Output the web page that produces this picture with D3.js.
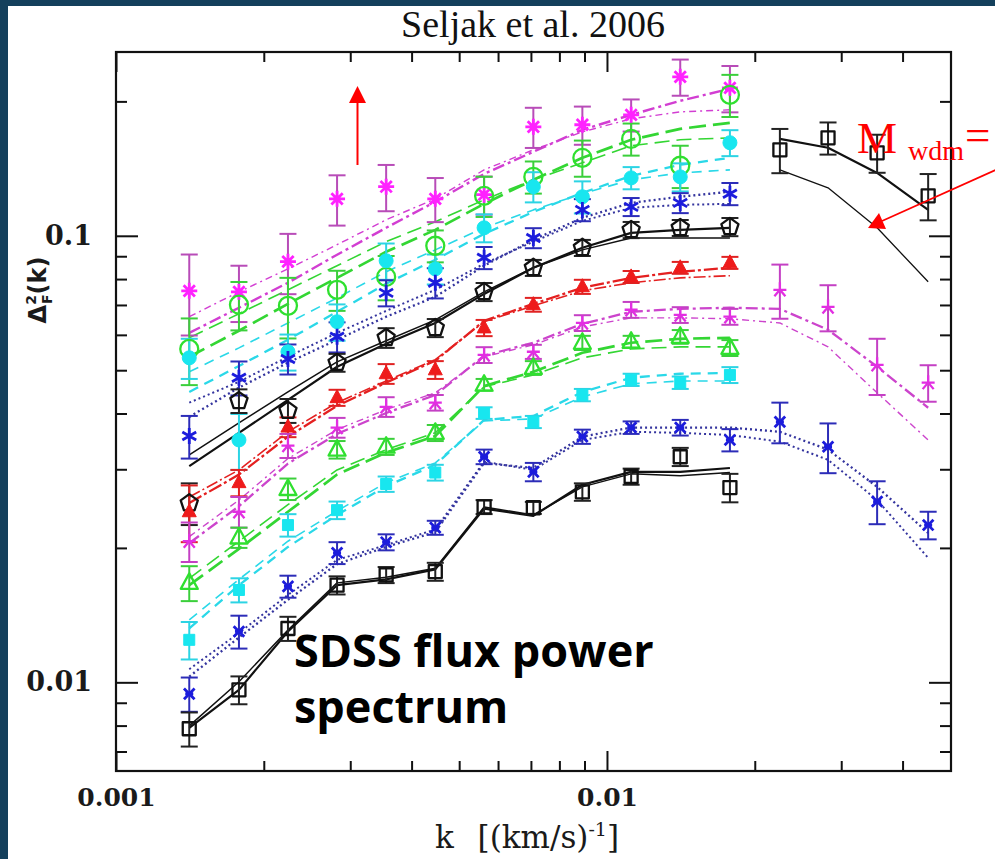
<!DOCTYPE html>
<html>
<head>
<meta charset="utf-8">
<script src="https://cdn.jsdelivr.net/npm/d3@7"></script>
<style>
  html, body { margin: 0; padding: 0; background: #14405c; }
  svg { display: block; }
</style>
</head>
<body>
<svg id="chart" width="995" height="859"></svg>
<script>
// ---- wavenumber bins, (km/s)^-1 ----
const kLow  = [0.00141, 0.00178, 0.00224, 0.00282, 0.00355, 0.00447, 0.00562, 0.00708, 0.00891, 0.0112, 0.0141, 0.0178];
const kHigh = [0.0225, 0.0282, 0.0355, 0.0451];
const kAll  = kLow.concat(kHigh);

// ---- axis ticks ----
const xMajor = [0.001, 0.01];
const xTickLabels = ["0.001", "0.01"];
const xMinor = [0.002, 0.003, 0.004, 0.005, 0.006, 0.007, 0.008, 0.009, 0.02, 0.03, 0.04];
const yMajor = [0.01, 0.1];
const yTickLabels = ["0.01", "0.1"];
const yMinor = [0.007, 0.008, 0.009, 0.02, 0.03, 0.04, 0.05, 0.06, 0.07, 0.08, 0.09, 0.2];

// ---- flux power per redshift bin: measurement, 1-sigma error, two model curves ----
const p42 = [0.0753, 0.0749, 0.0875, 0.121, 0.1288, 0.121, 0.1236, 0.1754, 0.1773, 0.1866, 0.227, 0.2145];
const e42 = [0.0155, 0.0108, 0.0135, 0.0156, 0.0153, 0.0137, 0.0121, 0.0181, 0.0174, 0.0154, 0.0211, 0.0255];
const a42 = [0.0659, 0.0749, 0.0843, 0.0955, 0.1086, 0.121, 0.1405, 0.1558, 0.1709, 0.1828, 0.1895, 0.1915];
const b42 = [0.0606, 0.069, 0.0785, 0.0907, 0.1042, 0.1192, 0.1376, 0.1542, 0.1727, 0.1866, 0.2006, 0.2134];

const p40 = [0.0558, 0.0701, 0.0697, 0.0757, 0.0809, 0.095, 0.1229, 0.1355, 0.1495, 0.1648, 0.1435, 0.2069];
const e40 = [0.0095, 0.0087, 0.0108, 0.0078, 0.0092, 0.0078, 0.0127, 0.0112, 0.0139, 0.0136, 0.0156, 0.0224];
const a40 = [0.0591, 0.0669, 0.0757, 0.0857, 0.097, 0.1075, 0.1204, 0.1335, 0.1457, 0.1591, 0.1641, 0.1657];
const b40 = [0.0536, 0.0613, 0.0704, 0.0805, 0.0921, 0.1031, 0.1179, 0.1335, 0.1495, 0.1641, 0.1736, 0.1791];

const p38 = [0.0533, 0.0349, 0.055, 0.0642, 0.0879, 0.0843, 0.1042, 0.1288, 0.1223, 0.1348, 0.1355, 0.1616];
const e38 = [0.0055, 0.005, 0.0051, 0.006, 0.0082, 0.0065, 0.0075, 0.01, 0.0101, 0.0077, 0.0098, 0.0108];
const a38 = [0.0496, 0.0561, 0.0638, 0.0726, 0.0831, 0.093, 0.1042, 0.1143, 0.1242, 0.1335, 0.1383, 0.1405];
const b38 = [0.0447, 0.0511, 0.0585, 0.0676, 0.0781, 0.0884, 0.101, 0.1131, 0.1248, 0.1362, 0.1442, 0.1495];

const p36 = [0.0356, 0.0481, 0.053, 0.0594, 0.0745, 0.0785, 0.0893, 0.0989, 0.1143, 0.1161, 0.1185, 0.1242];
const e36 = [0.0039, 0.0042, 0.0041, 0.0046, 0.005, 0.0061, 0.0051, 0.0051, 0.0065, 0.0054, 0.0061, 0.0071];
const a36 = [0.0423, 0.0471, 0.0536, 0.0606, 0.0679, 0.0757, 0.0866, 0.097, 0.108, 0.1155, 0.1173, 0.1179];
const b36 = [0.0393, 0.0457, 0.052, 0.0585, 0.0659, 0.073, 0.0857, 0.098, 0.1097, 0.1185, 0.1223, 0.1255];

const p34 = [0.0252, 0.0427, 0.0406, 0.052, 0.0591, 0.0622, 0.0749, 0.0848, 0.094, 0.1031, 0.1042, 0.1047];
const e34 = [0.0027, 0.0026, 0.0025, 0.0024, 0.003, 0.0029, 0.0035, 0.0035, 0.0039, 0.0043, 0.0043, 0.0049];
const a34 = [0.0323, 0.0381, 0.0447, 0.0522, 0.0582, 0.0648, 0.0749, 0.0848, 0.093, 0.0989, 0.0989, 0.0989];
const b34 = [0.0305, 0.0362, 0.0429, 0.0509, 0.0573, 0.0638, 0.0741, 0.0848, 0.094, 0.1015, 0.1031, 0.1042];

const p32 = [0.0241, 0.028, 0.0373, 0.0434, 0.0491, 0.0501, 0.0622, 0.0701, 0.0769, 0.0809, 0.0848, 0.087];
const e32 = [0.0035, 0.0019, 0.0019, 0.0018, 0.0025, 0.0023, 0.0026, 0.0025, 0.0028, 0.0025, 0.0026, 0.0027];
const a32 = [0.026, 0.0299, 0.0364, 0.0423, 0.0473, 0.0528, 0.0642, 0.0697, 0.0753, 0.0785, 0.0805, 0.0814];
const b32 = [0.0252, 0.0292, 0.0355, 0.0416, 0.0469, 0.0525, 0.0645, 0.0704, 0.0765, 0.0805, 0.0831, 0.0848];

const p30 = [0.0207, 0.0241, 0.0339, 0.0372, 0.0414, 0.0423, 0.0541, 0.055, 0.0638, 0.0683, 0.0665, 0.0659, 0.0757, 0.0693, 0.0514, 0.0469];
const e30 = [0.0021, 0.0019, 0.0021, 0.0019, 0.0021, 0.0017, 0.0022, 0.002, 0.0026, 0.0028, 0.0027, 0.0027, 0.0105, 0.0082, 0.0074, 0.0044];
const a30 = [0.0212, 0.0256, 0.0317, 0.0368, 0.0408, 0.0445, 0.0536, 0.057, 0.0625, 0.0655, 0.0655, 0.0652, 0.0638, 0.0564, 0.0445, 0.0349];
const b30 = [0.0205, 0.0248, 0.0309, 0.036, 0.0401, 0.044, 0.0539, 0.0576, 0.0635, 0.0676, 0.0686, 0.069, 0.0686, 0.0616, 0.0509, 0.0412];

const p28 = [0.0167, 0.0211, 0.0271, 0.0332, 0.0337, 0.0362, 0.0464, 0.0506, 0.0576, 0.0579, 0.0594, 0.0561];
const e28 = [0.0015, 0.0011, 0.0015, 0.0015, 0.0014, 0.0015, 0.0014, 0.0018, 0.0021, 0.0018, 0.0021, 0.0023];
const a28 = [0.0171, 0.0207, 0.025, 0.0299, 0.0332, 0.0362, 0.0459, 0.0488, 0.0533, 0.0558, 0.0564, 0.0564];
const b28 = [0.0165, 0.0199, 0.0241, 0.0292, 0.0327, 0.0356, 0.0461, 0.0496, 0.0547, 0.0576, 0.0588, 0.0591];

const p26 = [0.01245, 0.0161, 0.0225, 0.0243, 0.0278, 0.0295, 0.0401, 0.0383, 0.044, 0.0476, 0.0469, 0.0488];
const e26 = [0.0012, 0.001, 0.0013, 0.0011, 0.0011, 0.0012, 0.0012, 0.0012, 0.0014, 0.0015, 0.0015, 0.002];
const a26 = [0.0138, 0.017, 0.0207, 0.0242, 0.028, 0.031, 0.0385, 0.0389, 0.0436, 0.0466, 0.0473, 0.0473];
const b26 = [0.0132, 0.0165, 0.0201, 0.0237, 0.0275, 0.0307, 0.0387, 0.0395, 0.0447, 0.0481, 0.0491, 0.0493];

const p24 = [0.00942, 0.013, 0.0164, 0.0195, 0.0206, 0.0222, 0.032, 0.0296, 0.0355, 0.0372, 0.0372, 0.0349, 0.0383, 0.0337, 0.0254, 0.0225];
const e24 = [0.00083, 0.0011, 0.00093, 0.0011, 0.00085, 0.0008, 0.0012, 0.0014, 0.0013, 0.0012, 0.0015, 0.002, 0.004, 0.0043, 0.0028, 0.0016];
const a24 = [0.0107, 0.0129, 0.0157, 0.0188, 0.0203, 0.022, 0.0312, 0.0299, 0.0349, 0.0364, 0.0362, 0.0358, 0.0346, 0.0315, 0.0256, 0.019];
const b24 = [0.0103, 0.0126, 0.0153, 0.0184, 0.0201, 0.0217, 0.031, 0.0302, 0.0355, 0.0372, 0.0372, 0.0372, 0.0364, 0.0332, 0.0274, 0.0216];

const p22 = [0.00787, 0.00962, 0.0132, 0.0165, 0.0174, 0.0177, 0.0247, 0.0246, 0.0267, 0.0289, 0.032, 0.0273];
const e22 = [0.00069, 0.00069, 0.00082, 0.00077, 0.00072, 0.00082, 0.00089, 0.00076, 0.0012, 0.0012, 0.0015, 0.002];
const a22 = [0.00799, 0.01003, 0.0131, 0.0167, 0.0172, 0.018, 0.0247, 0.0237, 0.0274, 0.0293, 0.029, 0.0295];
const b22 = [0.00791, 0.00962, 0.013, 0.0165, 0.017, 0.0179, 0.0245, 0.0236, 0.0277, 0.0296, 0.0296, 0.0302];

// high-resolution points at small scales
const pHi = [0.1558, 0.1657, 0.1534, 0.1229];
const eHi = [0.0177, 0.0137, 0.015, 0.0146];
const aHi = [0.1648, 0.1575, 0.1383, 0.1143];
const bHi = [0.1405, 0.1281, 0.1042, 0.0789];

const seriesList = [
  { id: "z42", k: kLow,  p: p42, e: e42, a: a42, b: b42 },
  { id: "z40", k: kLow,  p: p40, e: e40, a: a40, b: b40 },
  { id: "z38", k: kLow,  p: p38, e: e38, a: a38, b: b38 },
  { id: "z36", k: kLow,  p: p36, e: e36, a: a36, b: b36 },
  { id: "z34", k: kLow,  p: p34, e: e34, a: a34, b: b34 },
  { id: "z32", k: kLow,  p: p32, e: e32, a: a32, b: b32 },
  { id: "z30", k: kAll,  p: p30, e: e30, a: a30, b: b30 },
  { id: "z28", k: kLow,  p: p28, e: e28, a: a28, b: b28 },
  { id: "z26", k: kLow,  p: p26, e: e26, a: a26, b: b26 },
  { id: "z24", k: kAll,  p: p24, e: e24, a: a24, b: b24 },
  { id: "z22", k: kLow,  p: p22, e: e22, a: a22, b: b22 },
  { id: "hi",  k: kHigh, p: pHi, e: eHi, a: aHi, b: bHi }
];

// ---- appearance of each bin ----
const look = {
  z42: { mark: "asterisk8", col: "#ff22ff", bar: "#b84cb8", line: "#d23ed2", dashA: "7,4,2,4",  dashB: "12,4,3,4", wA: 1.4, wB: 2.4 },
  z40: { mark: "circle",    col: "#2fe02f", bar: "#3bcf3b", line: "#33d633", dashA: "15,7",     dashB: "17,7",     wA: 1.6, wB: 2.7 },
  z38: { mark: "dot",       col: "#18e6ef", bar: "#2cd4e4", line: "#2ad8e8", dashA: "10,7",     dashB: "10,7",     wA: 1.6, wB: 2.3 },
  z36: { mark: "asterisk6", col: "#1c1cdc", bar: "#2c2cb8", line: "#34349e", dashA: "2,3",      dashB: "2,3",      wA: 2.0, wB: 2.3 },
  z34: { mark: "pentagon",  col: "#111111", bar: "#222222", line: "#111111", dashA: null,       dashB: null,       wA: 1.5, wB: 2.2 },
  z32: { mark: "triFill",   col: "#ee1b1b", bar: "#e02222", line: "#e42020", dashA: "12,3,2,3", dashB: "14,3,3,3", wA: 1.6, wB: 2.3 },
  z30: { mark: "tristar",   col: "#e22ee2", bar: "#c440c4", line: "#cc44cc", dashA: "7,4,2,4",  dashB: "12,4,3,4", wA: 1.4, wB: 2.3 },
  z28: { mark: "triangle",  col: "#2fe02f", bar: "#3bcf3b", line: "#33d633", dashA: "15,7",     dashB: "17,7",     wA: 1.6, wB: 2.7 },
  z26: { mark: "sqFill",    col: "#18e6ef", bar: "#2cd4e4", line: "#2ad8e8", dashA: "10,7",     dashB: "10,7",     wA: 1.6, wB: 2.3 },
  z24: { mark: "xstar",     col: "#1c1cdc", bar: "#2c2cb8", line: "#34349e", dashA: "2,3",      dashB: "2,3",      wA: 2.0, wB: 2.3 },
  z22: { mark: "square",    col: "#111111", bar: "#222222", line: "#111111", dashA: null,       dashB: null,       wA: 1.5, wB: 2.2 },
  hi:  { mark: "square",    col: "#111111", bar: "#222222", line: "#111111", dashA: null,       dashB: null,       wA: 2.2, wB: 1.3 }
};

const svg = d3.select("#chart");
svg.append("rect").attr("x", 8).attr("y", 6).attr("width", 987).attr("height", 853).attr("fill", "#ffffff");

const x = d3.scaleLog().domain([0.001, 0.0502]).range([116, 951]);
const y = d3.scaleLog().domain([0.00633, 0.258]).range([771, 52]);
const [x0, x1] = x.range();
const [y0, y1] = [y.range()[1], y.range()[0]];

// ---- axes: ticks point inward on all four sides ----
function styleAxis(g) {
  g.select(".domain").remove();
  g.selectAll(".tick line").attr("stroke", "#111").attr("stroke-width", 2);
}
const axes = svg.append("g");
axes.append("g").attr("transform", `translate(0,${y1})`)
  .call(d3.axisBottom(x).tickValues(xMajor).tickSize(-20).tickPadding(17).tickFormat((d, i) => xTickLabels[i]))
  .call(styleAxis)
  .call(g => g.selectAll("text").attr("font-family", "DejaVu Serif").attr("font-weight", "bold").attr("font-size", 25).attr("fill", "#1a1a1a"));
axes.append("g").attr("transform", `translate(0,${y1})`)
  .call(d3.axisBottom(x).tickValues(xMinor).tickSize(-10).tickFormat(""))
  .call(styleAxis);
axes.append("g").attr("transform", `translate(0,${y0})`)
  .call(d3.axisTop(x).tickValues(xMajor).tickSize(-20).tickFormat(""))
  .call(styleAxis);
axes.append("g").attr("transform", `translate(0,${y0})`)
  .call(d3.axisTop(x).tickValues(xMinor).tickSize(-10).tickFormat(""))
  .call(styleAxis);
axes.append("g").attr("transform", `translate(${x0},0)`)
  .call(d3.axisLeft(y).tickValues(yMajor).tickSize(-22).tickPadding(24).tickFormat((d, i) => yTickLabels[i]))
  .call(styleAxis)
  .call(g => g.selectAll("text").attr("font-family", "DejaVu Serif").attr("font-weight", "bold").attr("font-size", 27).attr("fill", "#1a1a1a"));
axes.append("g").attr("transform", `translate(${x0},0)`)
  .call(d3.axisLeft(y).tickValues(yMinor).tickSize(-11).tickFormat(""))
  .call(styleAxis);
axes.append("g").attr("transform", `translate(${x1},0)`)
  .call(d3.axisRight(y).tickValues(yMajor).tickSize(-22).tickFormat(""))
  .call(styleAxis);
axes.append("g").attr("transform", `translate(${x1},0)`)
  .call(d3.axisRight(y).tickValues(yMinor).tickSize(-11).tickFormat(""))
  .call(styleAxis);

// ---- model curves ----
const curve = d3.line().x(d => x(d[0])).y(d => y(d[1]));
const models = svg.append("g").attr("fill", "none");
seriesList.forEach(s => {
  const st = look[s.id];
  [[s.a, st.dashA, st.wA], [s.b, st.dashB, st.wB]].forEach(([vals, dash, w]) => {
    models.append("path")
      .attr("d", curve(s.k.map((kk, i) => [kk, vals[i]])))
      .attr("stroke", st.line)
      .attr("stroke-width", w)
      .attr("stroke-dasharray", dash)
      .attr("stroke-linejoin", "round");
  });
});

// ---- error bars ----
const bars = svg.append("g").attr("stroke-width", 2);
seriesList.forEach(s => {
  const st = look[s.id];
  s.k.forEach((kk, i) => {
    const cx = x(kk), top = y(s.p[i] + s.e[i]), bot = y(s.p[i] - s.e[i]);
    const g = bars.append("g").attr("stroke", st.bar);
    g.append("line").attr("x1", cx).attr("x2", cx).attr("y1", top).attr("y2", bot);
    g.append("line").attr("x1", cx - 8.5).attr("x2", cx + 8.5).attr("y1", top).attr("y2", top);
    g.append("line").attr("x1", cx - 8.5).attr("x2", cx + 8.5).attr("y1", bot).attr("y2", bot);
  });
});

// ---- point symbols ----
function markPath(kind) {
  const p = d3.path();
  const ray = (deg, r) => {
    const a = deg * Math.PI / 180;
    p.moveTo(-r * Math.cos(a), -r * Math.sin(a));
    p.lineTo(r * Math.cos(a), r * Math.sin(a));
  };
  const poly = pts => {
    p.moveTo(pts[0][0], pts[0][1]);
    pts.slice(1).forEach(q => p.lineTo(q[0], q[1]));
    p.closePath();
  };
  switch (kind) {
    case "asterisk8": [0, 45, 90, 135].forEach(a => ray(a, 8)); break;
    case "asterisk6": [90, 30, 150].forEach(a => ray(a, 8)); break;
    case "xstar": [45, 135].forEach(a => ray(a, 7.5)); ray(0, 4); break;
    case "tristar":
      ray(0, 6.5);
      p.moveTo(0, 0); p.lineTo(0, -7.5);
      p.moveTo(0, 0); p.lineTo(-5.5, 6.5);
      p.moveTo(0, 0); p.lineTo(5.5, 6.5);
      break;
    case "pentagon":
      poly(d3.range(5).map(i => {
        const a = (-90 + 72 * i) * Math.PI / 180;
        return [9 * Math.cos(a), 9 * Math.sin(a)];
      }));
      break;
    case "circle": p.moveTo(9, 0); p.arc(0, 0, 9, 0, 2 * Math.PI); break;
    case "dot": p.moveTo(7, 0); p.arc(0, 0, 7, 0, 2 * Math.PI); break;
    case "triangle": poly([[0, -9.5], [8.5, 6], [-8.5, 6]]); break;
    case "triFill": poly([[0, -8], [7, 5], [-7, 5]]); break;
    case "square": poly([[-6.5, -6.5], [6.5, -6.5], [6.5, 6.5], [-6.5, 6.5]]); break;
    case "sqFill": poly([[-5.5, -5.5], [5.5, -5.5], [5.5, 5.5], [-5.5, 5.5]]); break;
  }
  return p.toString();
}
const filled = new Set(["dot", "triFill", "sqFill"]);
const marks = svg.append("g");
seriesList.forEach(s => {
  const st = look[s.id];
  const d = markPath(st.mark);
  s.k.forEach((kk, i) => {
    const m = marks.append("path")
      .attr("d", d)
      .attr("transform", `translate(${x(kk)},${y(s.p[i])})`)
      .attr("stroke-linejoin", "round");
    if (filled.has(st.mark)) {
      m.attr("fill", st.col).attr("stroke", st.col).attr("stroke-width", 1);
    } else {
      m.attr("fill", "none").attr("stroke", st.col).attr("stroke-width", st.mark.startsWith("aster") || st.mark === "xstar" ? 2.8 : 2.3);
    }
  });
});

// ---- frame ----
svg.append("rect")
  .attr("x", x0).attr("y", y0).attr("width", x1 - x0).attr("height", y1 - y0)
  .attr("fill", "none").attr("stroke", "#111").attr("stroke-width", 2.2);

// ---- titles ----
svg.append("text")
  .attr("x", 533).attr("y", 37)
  .attr("text-anchor", "middle")
  .attr("font-family", "Liberation Serif, Times New Roman, serif")
  .attr("font-size", 38)
  .attr("fill", "#111")
  .text("Seljak et al. 2006");

const xl = svg.append("text")
  .attr("x", 527).attr("y", 848)
  .attr("text-anchor", "middle")
  .attr("font-family", "DejaVu Serif")
  .attr("font-size", 31)
  .attr("fill", "#1a1a1a");
xl.append("tspan").text("k");
xl.append("tspan").attr("dx", 14).text(" [(km/s)");
xl.append("tspan").attr("dy", -12).attr("font-size", 19).text("-1");
xl.append("tspan").attr("dy", 12).text("]");

const yl = svg.append("text")
  .attr("transform", "translate(46,290) rotate(-90)")
  .attr("text-anchor", "middle")
  .attr("font-family", "DejaVu Sans")
  .attr("font-weight", "bold")
  .attr("font-size", 24)
  .attr("fill", "#1a1a1a");
yl.append("tspan").text("Δ");
yl.append("tspan").attr("font-size", 14).attr("dy", -10).text("2");
yl.append("tspan").attr("font-size", 14).attr("dx", -9).attr("dy", 16).text("F");
yl.append("tspan").attr("dy", -6).text("(k)");

// ---- caption inside the plot ----
const cap = svg.append("text")
  .attr("font-family", "Open Sans, sans-serif")
  .attr("font-weight", 700)
  .attr("font-size", 45)
  .attr("fill", "#000");
cap.append("tspan").attr("x", 294).attr("y", 667).text("SDSS flux power");
cap.append("tspan").attr("x", 294).attr("y", 723).text("spectrum");

// ---- red annotations ----
const red = "#ff0000";
const ann = svg.append("g");
ann.append("line").attr("x1", 357.5).attr("y1", 165).attr("x2", 357.5).attr("y2", 100)
  .attr("stroke", red).attr("stroke-width", 2);
ann.append("path").attr("d", "M357.5,86 L366,103 L349,103 Z").attr("fill", red);
ann.append("line").attr("x1", 998).attr("y1", 169).attr("x2", 882).attr("y2", 221)
  .attr("stroke", red).attr("stroke-width", 1.8);
ann.append("path").attr("d", "M868,228 L879,213 L886,229 Z").attr("fill", red);

const mt = svg.append("text")
  .attr("x", 857).attr("y", 153)
  .attr("font-family", "Liberation Serif, Times New Roman, serif")
  .attr("font-size", 45)
  .attr("fill", red);
mt.append("tspan").text("M");
mt.append("tspan").attr("dx", 11).attr("dy", 7).attr("font-size", 28).text("wdm");
mt.append("tspan").attr("dx", 1).attr("dy", -10).text("=");
</script>
</body>
</html>
